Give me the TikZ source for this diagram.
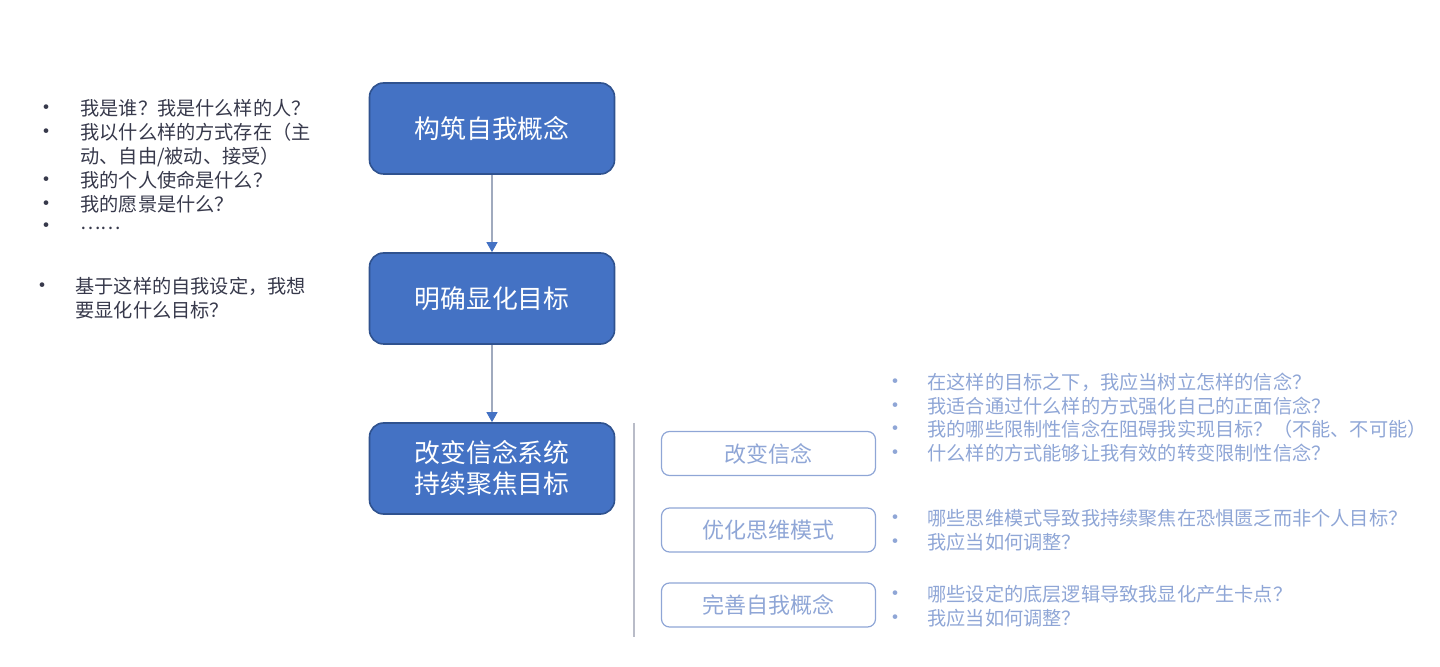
\documentclass[tikz,border=0pt]{standalone}
\usepackage{fontspec}
\setmainfont{Noto Sans CJK SC}
\usetikzlibrary{arrows.meta}

\definecolor{boxblue}{RGB}{68,114,196}
\definecolor{boxedge}{RGB}{47,82,143}
\definecolor{arrowgray}{RGB}{160,170,190}
\definecolor{sepgray}{RGB}{185,188,200}
\definecolor{paleblue}{RGB}{143,166,214}
\definecolor{darktext}{RGB}{55,57,75}

\begin{document}
\begin{tikzpicture}[x=0.5pt,y=0.5pt,yscale=-1,xscale=1,
  stepbox/.style={draw=boxedge,fill=boxblue,line width=0.8pt,rounded corners=7pt,
    minimum width=122.5pt,minimum height=45.5pt,text=white,align=center,
    font=\fontsize{12.9pt}{15.5pt}\selectfont},
  subbox/.style={draw=paleblue,line width=0.6pt,rounded corners=4pt,
    minimum width=107pt,minimum height=22pt,text=paleblue,
    font=\fontsize{11pt}{13pt}\selectfont},
  linetxt/.style={anchor=west,inner sep=0pt,text=darktext,
    font=\fontsize{9.6pt}{11.5pt}\selectfont,text height=8.4pt,text depth=1.2pt},
  dot/.style={linetxt,anchor=center,font=\fontsize{11pt}{11.5pt}\selectfont},
  palediv/.style={linetxt,text=paleblue},
  palebullet/.style={dot,text=paleblue},
  flow/.style={arrowgray,line width=0.6pt,-{Triangle[length=5pt,width=5.5pt,color=boxblue]}}
]
\useasboundingbox (0,0) rectangle (1440,667);

%Shape: Rounded Rect - main steps
\node [stepbox] (concept) at (492,128.5) {构筑自我概念};
\node [stepbox] (goal) at (492,298.5) {明确显化目标};
\node [stepbox] (belief) at (492,468.5) {改变信念系统\\持续聚焦目标};

%Straight Lines - arrows
\draw [flow] (concept) -- (goal);
\draw [flow] (goal) -- (belief);

%Straight Lines - divider
\coordinate (divtop) at (634,423);
\coordinate (divbot) at (634,637);
\draw [sepgray,line width=0.6pt] (divtop) -- (divbot);

%Shape: Rounded Rect - sub steps
\node [subbox] (change) at (768.5,453.5) {改变信念};
\node [subbox] (mind) at (768.5,530) {优化思维模式};
\node [subbox] (refine) at (768.5,605) {完善自我概念};

% Text Node - questions on the self concept
\node [dot] (b1) at (46,108) {•};
\node [linetxt] (q1) at (80,108) {我是谁？我是什么样的人？};
\node [dot] (b2) at (46,132) {•};
\node [linetxt] (q2) at (80,132) {我以什么样的方式存在（主};
\node [linetxt] (q2b) at (80,156) {动、自由/被动、接受）};
\node [dot] (b3) at (46,180) {•};
\node [linetxt] (q3) at (80,180) {我的个人使命是什么？};
\node [dot] (b4) at (46,204) {•};
\node [linetxt] (q4) at (80,204) {我的愿景是什么？};
\node [dot] (b5) at (46,226) {•};
\node [linetxt] (q5) at (80,222) {……};

% Text Node - question on the goal
\node [dot] (g1) at (43,286) {•};
\node [linetxt] (gq1) at (75,286) {基于这样的自我设定，我想};
\node [linetxt] (gq1b) at (75,310) {要显化什么目标？};

% Text Node - questions on beliefs
\node [palebullet] (c1) at (895,382) {•};
\node [palediv] (cq1) at (927,382) {在这样的目标之下，我应当树立怎样的信念？};
\node [palebullet] (c2) at (895,406) {•};
\node [palediv] (cq2) at (927,406) {我适合通过什么样的方式强化自己的正面信念？};
\node [palebullet] (c3) at (895,429) {•};
\node [palediv] (cq3) at (927,429) {我的哪些限制性信念在阻碍我实现目标？（不能、不可能）};
\node [palebullet] (c4) at (895,453) {•};
\node [palediv] (cq4) at (927,453) {什么样的方式能够让我有效的转变限制性信念？};

% Text Node - questions on thinking
\node [palebullet] (m1) at (895,518) {•};
\node [palediv] (mq1) at (927,518) {哪些思维模式导致我持续聚焦在恐惧匮乏而非个人目标？};
\node [palebullet] (m2) at (895,542) {•};
\node [palediv] (mq2) at (927,542) {我应当如何调整？};

% Text Node - questions on refining
\node [palebullet] (r1) at (895,594) {•};
\node [palediv] (rq1) at (927,594) {哪些设定的底层逻辑导致我显化产生卡点？};
\node [palebullet] (r2) at (895,618) {•};
\node [palediv] (rq2) at (927,618) {我应当如何调整？};

\end{tikzpicture}
\end{document}
